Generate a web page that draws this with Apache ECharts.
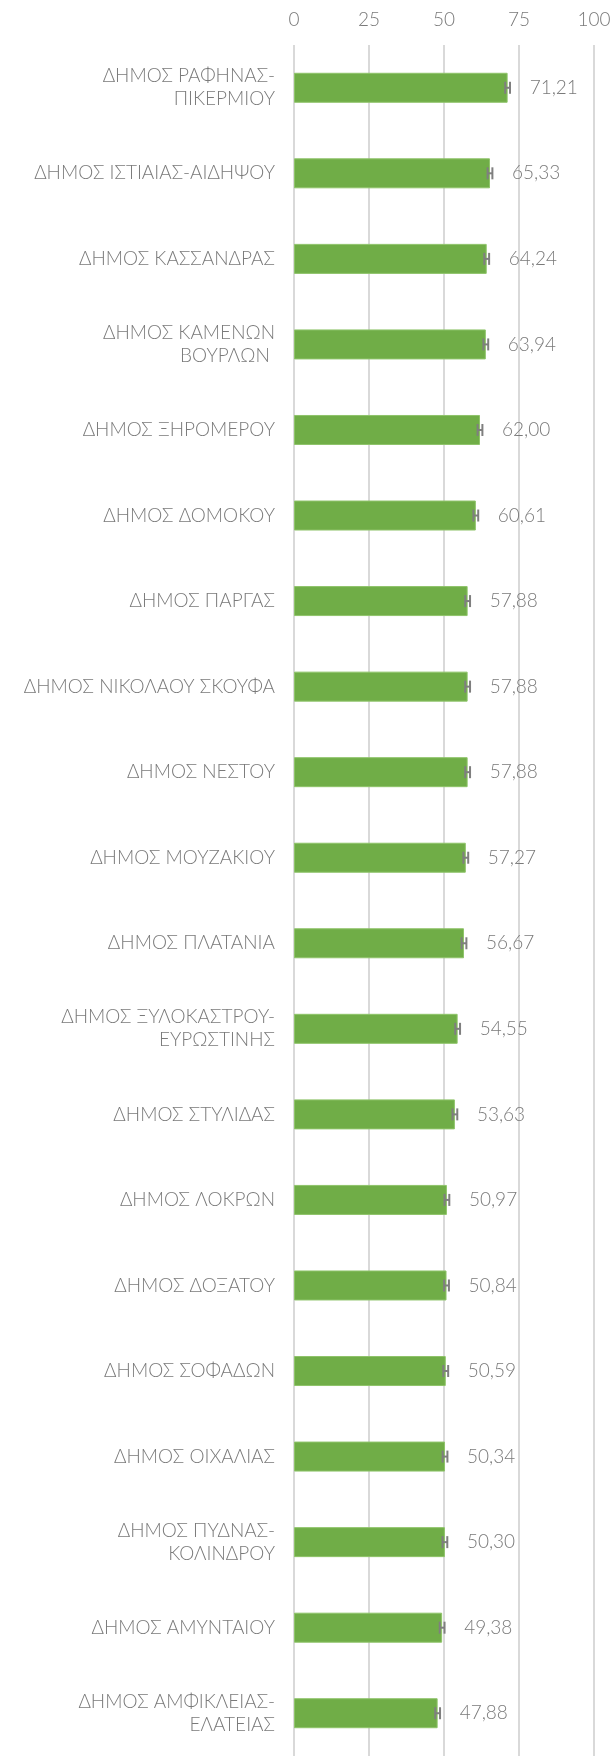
<!DOCTYPE html>
<html>
<head>
<meta charset="utf-8">
<script src="https://cdn.jsdelivr.net/npm/echarts@6/dist/echarts.min.js"></script>
<style>
  html, body { margin: 0; padding: 0; background: #fff; }
  #chart { width: 616px; height: 1757px; }
</style>
</head>
<body>
<div id="chart"></div>
<script>
// Δήμοι με τη μεγαλύτερη τιμή δείκτη (οριζόντιες μπάρες + μικρά error bars)
const categories = [
  'ΔΗΜΟΣ ΡΑΦΗΝΑΣ-\nΠΙΚΕΡΜΙΟΥ',
  'ΔΗΜΟΣ ΙΣΤΙΑΙΑΣ-ΑΙΔΗΨΟΥ',
  'ΔΗΜΟΣ ΚΑΣΣΑΝΔΡΑΣ',
  'ΔΗΜΟΣ ΚΑΜΕΝΩΝ\nΒΟΥΡΛΩΝ ',
  'ΔΗΜΟΣ ΞΗΡΟΜΕΡΟΥ',
  'ΔΗΜΟΣ ΔΟΜΟΚΟΥ',
  'ΔΗΜΟΣ ΠΑΡΓΑΣ',
  'ΔΗΜΟΣ ΝΙΚΟΛΑΟΥ ΣΚΟΥΦΑ',
  'ΔΗΜΟΣ ΝΕΣΤΟΥ',
  'ΔΗΜΟΣ ΜΟΥΖΑΚΙΟΥ',
  'ΔΗΜΟΣ ΠΛΑΤΑΝΙΑ',
  'ΔΗΜΟΣ ΞΥΛΟΚΑΣΤΡΟΥ-\nΕΥΡΩΣΤΙΝΗΣ',
  'ΔΗΜΟΣ ΣΤΥΛΙΔΑΣ',
  'ΔΗΜΟΣ ΛΟΚΡΩΝ',
  'ΔΗΜΟΣ ΔΟΞΑΤΟΥ',
  'ΔΗΜΟΣ ΣΟΦΑΔΩΝ',
  'ΔΗΜΟΣ ΟΙΧΑΛΙΑΣ',
  'ΔΗΜΟΣ ΠΥΔΝΑΣ-\nΚΟΛΙΝΔΡΟΥ',
  'ΔΗΜΟΣ ΑΜΥΝΤΑΙΟΥ',
  'ΔΗΜΟΣ ΑΜΦΙΚΛΕΙΑΣ-\nΕΛΑΤΕΙΑΣ'
]

const values = [
  71.21, 65.33, 64.24, 63.94, 62.00, 60.61, 57.88, 57.88, 57.88, 57.27,
  56.67, 54.55, 53.63, 50.97, 50.84, 50.59, 50.34, 50.30, 49.38, 47.88
]

// μισό εύρος σφάλματος (εκτίμηση από την εικόνα)
const errors = [
  0.8, 0.8, 0.8, 0.8, 0.8, 0.8, 0.8, 0.8, 0.8, 0.8,
  0.8, 0.8, 0.8, 0.8, 0.8, 0.8, 0.8, 0.8, 0.8, 0.8
]

const xTicks = { min: 0, max: 100, interval: 25 }

const textColor = '#7a7a7a'
const fontFamily = 'Lato, "Noto Sans", sans-serif'

const errorData = values.map((v, i) => [i, v - errors[i], v + errors[i]])

const chart = echarts.init(document.getElementById('chart'))

chart.setOption({
  animation: false,
  grid: { top: 45, bottom: 1, left: 294, right: 22, containLabel: false },
  xAxis: {
    type: 'value',
    position: 'top',
    min: xTicks.min,
    max: xTicks.max,
    interval: xTicks.interval,
    axisLine: { show: false },
    axisTick: { show: false },
    axisLabel: {
      color: textColor,
      fontSize: 19,
      fontFamily,
      fontWeight: 300,
      margin: 16
    },
    splitLine: { lineStyle: { color: '#d9d9d9', width: 2 } }
  },
  yAxis: {
    type: 'category',
    data: categories,
    inverse: true,
    axisLine: { show: false },
    axisTick: { show: false },
    axisLabel: {
      color: textColor,
      fontSize: 19,
      fontFamily,
      fontWeight: 300,
      lineHeight: 23,
      margin: 19,
      align: 'right'
    }
  },
  series: [
    {
      type: 'bar',
      data: values,
      barWidth: 30,
      itemStyle: { color: '#70ad47', borderColor: '#8fc46a', borderWidth: 1 },
      label: {
        show: true,
        position: 'right',
        distance: 22,
        color: textColor,
        fontSize: 19,
        fontFamily,
        fontWeight: 300,
        formatter: (p) => p.value.toFixed(2).replace('.', ',')
      },
      z: 2
    },
    {
      type: 'custom',
      data: errorData,
      z: 3,
      renderItem: (params, api) => {
        const idx = api.value(0)
        const lo = api.coord([api.value(1), idx])
        const hi = api.coord([api.value(2), idx])
        const half = 6
        const style = { stroke: '#7f7f7f', lineWidth: 2 }
        return {
          type: 'group',
          children: [
            { type: 'line', shape: { x1: lo[0], y1: lo[1], x2: hi[0], y2: hi[1] }, style },
            { type: 'line', shape: { x1: lo[0], y1: lo[1] - half, x2: lo[0], y2: lo[1] + half }, style },
            { type: 'line', shape: { x1: hi[0], y1: hi[1] - half, x2: hi[0], y2: hi[1] + half }, style }
          ]
        }
      },
      encode: { x: [1, 2], y: 0 }
    }
  ]
})

window.addEventListener('resize', () => chart.resize())
</script>
</body>
</html>
